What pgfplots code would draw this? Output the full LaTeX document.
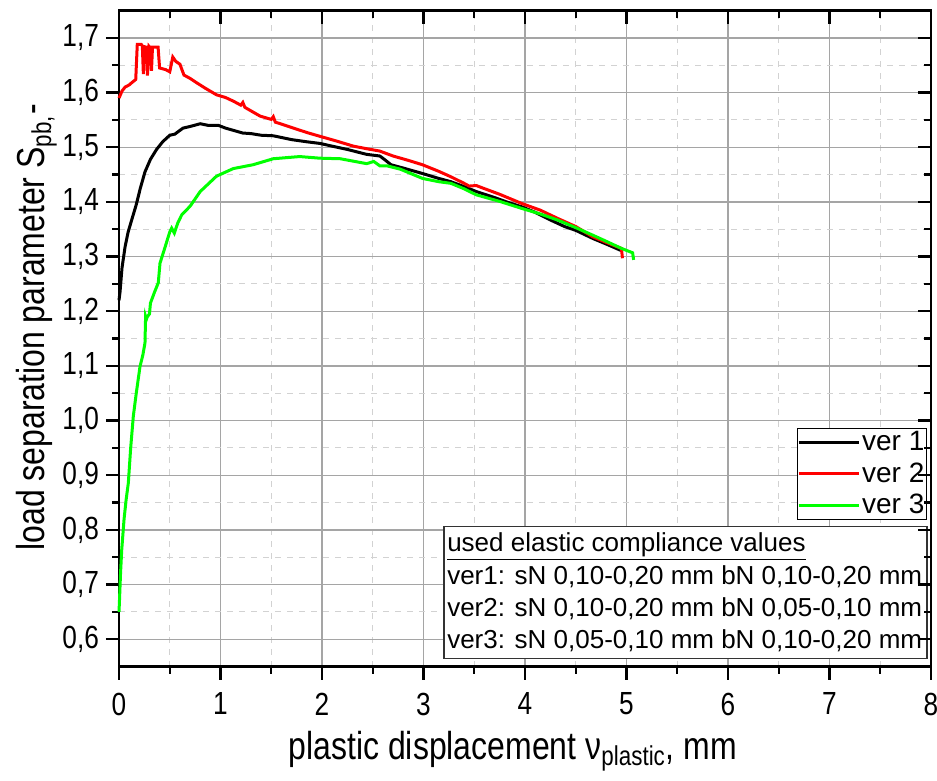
\documentclass[border=0pt]{standalone}
\usepackage{fontspec}
\setmainfont{Liberation Sans}
\newfontfamily\narrowfont[FakeStretch=0.82]{Liberation Sans}
\usepackage{pgfplots}
\pgfplotsset{compat=1.18}

\definecolor{majgrid}{RGB}{165,165,165}
\definecolor{mingrid}{RGB}{210,210,210}

\begin{document}
\begin{tikzpicture}
\pgfplotsset{
    common/.style={
        scale only axis,
        width=406pt, height=328pt,
        xmin=0, xmax=8, ymin=0.55, ymax=1.75,
        xtick={0,1,...,8},
        ytick={0.6,0.7,...,1.71},
        minor x tick num=1,
        minor y tick num=1,
        axis line style={line width=1.2pt},
        major tick style={line width=1.2pt, black},
        minor tick style={line width=1.2pt, black},
        major tick length=6.5pt,
        minor tick length=3.5pt,
    },
}
\begin{axis}[
    common,
    tick align=outside,
    xtick pos=left, ytick pos=left,
    grid=both,
    major grid style={majgrid, line width=0.6pt},
    minor grid style={mingrid, dashed, line width=0.5pt},
    /pgf/number format/assume math mode=true,
    /pgf/number format/use comma,
    yticklabel style={/pgf/number format/fixed, /pgf/number format/fixed zerofill,
        /pgf/number format/precision=1, font=\narrowfont\fontsize{16}{16}\selectfont},
    xticklabel style={font=\narrowfont\fontsize{16}{16}\selectfont, yshift=-3pt},
    xlabel={plastic displacement ν\textsubscript{plastic}, mm},
    ylabel={load separation parameter S\textsubscript{pb,}-},
    xlabel style={font=\narrowfont\fontsize{19.5}{20}\selectfont,
        at={(axis description cs:0.485,0)}, anchor=base, yshift=-46.5pt},
    ylabel style={font=\narrowfont\fontsize{19.5}{20}\selectfont,
        at={(axis description cs:0,0.517)}, anchor=base, yshift=37pt},
    legend style={at={(axis cs:7.96,0.987)}, anchor=north east,
        draw=black, line width=0.6pt, inner sep=0pt,
        font=\fontsize{14}{15}\selectfont, row sep=1.5pt,
        nodes={inner xsep=1pt, inner ysep=1.5pt},
        cells={anchor=west}},
    legend image code/.code={\draw[#1, line width=1.5pt] (0pt,0pt) -- (30pt,0pt);},
    clip=false,
]

% ver 1
\addplot[black, line width=1.5pt] coordinates {
(0,1.22) (0.01,1.235) (0.03,1.28) (0.06,1.318) (0.09,1.345) (0.125,1.367)
(0.17,1.395) (0.21,1.425) (0.256,1.455) (0.31,1.478) (0.37,1.496) (0.43,1.51)
(0.50,1.522) (0.55,1.524) (0.63,1.535) (0.70,1.538) (0.80,1.543) (0.88,1.540)
(0.98,1.540) (1.05,1.535) (1.22,1.526) (1.30,1.525) (1.40,1.522) (1.52,1.521)
(1.70,1.514) (1.85,1.510) (1.98,1.507) (2.10,1.502) (2.25,1.496) (2.44,1.487)
(2.57,1.484) (2.62,1.477) (2.68,1.468) (2.80,1.462) (2.99,1.452) (3.15,1.443)
(3.27,1.437) (3.40,1.428) (3.52,1.419) (3.70,1.408) (3.85,1.398) (3.97,1.391)
(4.10,1.381) (4.25,1.367) (4.39,1.355) (4.50,1.348) (4.67,1.333) (4.80,1.323)
(4.96,1.31)
};
\addlegendentry{ver 1}

% ver 2
\addplot[red, line width=1.5pt] coordinates {
(0,1.59) (0.03,1.603) (0.06,1.61) (0.10,1.614) (0.125,1.618) (0.165,1.624)
(0.18,1.688) (0.22,1.688) (0.23,1.685) (0.24,1.634) (0.25,1.684) (0.27,1.683)
(0.28,1.631) (0.295,1.685) (0.31,1.682) (0.32,1.64) (0.33,1.683) (0.385,1.683)
(0.40,1.645) (0.46,1.642) (0.50,1.638) (0.53,1.665) (0.56,1.657) (0.60,1.652)
(0.64,1.632) (0.70,1.626) (0.765,1.618) (0.85,1.608) (0.96,1.596) (1.05,1.591)
(1.13,1.584) (1.20,1.577) (1.22,1.582) (1.24,1.573) (1.39,1.557) (1.50,1.551)
(1.52,1.556) (1.54,1.546) (1.72,1.535) (1.85,1.527) (1.98,1.52) (2.15,1.511)
(2.31,1.502) (2.45,1.497) (2.57,1.493) (2.70,1.484) (2.85,1.476) (2.99,1.468)
(3.15,1.456) (3.27,1.446) (3.40,1.434) (3.45,1.429) (3.52,1.430) (3.59,1.425)
(3.75,1.414) (3.97,1.397) (4.15,1.385) (4.32,1.370) (4.50,1.355) (4.67,1.336)
(4.80,1.326) (4.95,1.315) (4.96,1.297)
};
\addlegendentry{ver 2}

% ver 3
\addplot[green, line width=1.5pt] coordinates {
(0.0,0.65) (0.005,0.672) (0.015,0.72) (0.027,0.764) (0.05,0.82) (0.07,0.855)
(0.092,0.886) (0.115,0.95) (0.141,1.008) (0.17,1.05) (0.207,1.099) (0.235,1.12)
(0.256,1.142) (0.262,1.19) (0.27,1.185) (0.279,1.19) (0.30,1.195) (0.31,1.215)
(0.35,1.235) (0.387,1.252) (0.404,1.288) (0.45,1.315) (0.50,1.345) (0.519,1.352)
(0.545,1.343) (0.58,1.362) (0.62,1.377) (0.70,1.392) (0.80,1.419) (0.96,1.447)
(1.126,1.461) (1.32,1.468) (1.52,1.479) (1.78,1.483) (1.98,1.480) (2.18,1.479)
(2.44,1.47) (2.51,1.474) (2.57,1.466) (2.64,1.466) (2.77,1.46) (2.99,1.443)
(3.15,1.437) (3.27,1.434) (3.40,1.424) (3.52,1.413) (3.75,1.401) (3.97,1.388)
(4.15,1.378) (4.32,1.367) (4.50,1.353) (4.67,1.339) (4.80,1.328) (4.95,1.315)
(5.06,1.307) (5.07,1.294)
};
\addlegendentry{ver 3}

% box with the compliance values
\filldraw[fill=white, draw=black!80, line width=0.6pt]
    (axis cs:3.202,0.5646) rectangle (axis cs:7.96,0.806);
\begin{scope}[every node/.style={anchor=base west, inner sep=0pt,
              font=\fontsize{13}{15}\selectfont}]
\node at (axis cs:3.23,0.761) {\underline{used elastic compliance values}};
\node at (axis cs:3.23,0.700) {ver1: sN 0,10-0,20 mm bN 0,10-0,20 mm};
\node at (axis cs:3.23,0.642) {ver2: sN 0,10-0,20 mm bN 0,05-0,10 mm};
\node at (axis cs:3.23,0.583) {ver3: sN 0,05-0,10 mm bN 0,10-0,20 mm};
\end{scope}
\end{axis}

% inward ticks on top and right
\begin{axis}[
    common,
    grid=none,
    tick align=inside,
    xtick pos=right, ytick pos=right,
    xticklabels={}, yticklabels={},
    axis line style={draw=none},
]
\end{axis}

\pgfresetboundingbox
\path[use as bounding box] ([shift={(-59.5pt,-57pt)}]current axis.south west)
    rectangle ([shift={(3pt,5.3pt)}]current axis.north east);
\end{tikzpicture}
\end{document}
